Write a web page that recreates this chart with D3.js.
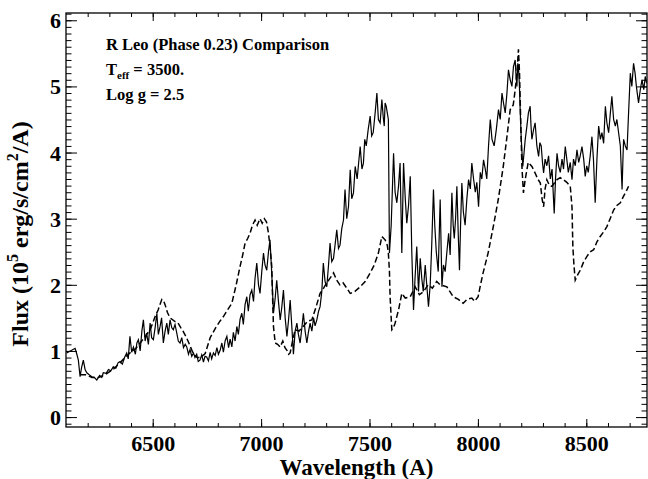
<!DOCTYPE html>
<html>
<head>
<meta charset="utf-8">
<script src="https://cdn.jsdelivr.net/npm/d3@7"></script>
<style>
  body { margin: 0; background: #fff; }
  text { font-family: "Liberation Serif", "Times New Roman", serif; font-weight: bold; fill: #000; }
</style>
</head>
<body>
<div id="chart"></div>
<script>
// observed spectrum (solid)
var obsWave = [6103,6126,6142,6150,6157,6165,6172,6180,6188,6196,6207,6219,6230,6242,6255,6265,6272,6285,6296,6307,6318,6330,6340,6349,6360,6370,6380,6387,6395,6403,6411,6420,6427,6434,6442,6450,6457,6465,6472,6480,6488,6495,6503,6511,6519,6526,6534,6541,6549,6557,6565,6572,6580,6588,6595,6603,6611,6618,6626,6634,6642,6650,6657,6665,6672,6680,6688,6695,6703,6710,6718,6726,6734,6741,6749,6757,6765,6772,6780,6788,6796,6803,6811,6819,6826,6834,6842,6850,6857,6865,6872,6880,6888,6895,6903,6911,6918,6926,6934,6941,6949,6957,6965,6972,6980,6988,6995,7003,7011,7018,7026,7034,7041,7049,7057,7065,7072,7080,7088,7095,7103,7111,7119,7126,7134,7142,7149,7157,7165,7172,7180,7188,7195,7203,7211,7218,7226,7234,7242,7249,7257,7265,7272,7280,7287,7295,7303,7311,7318,7326,7334,7341,7349,7357,7364,7372,7380,7387,7395,7403,7411,7418,7426,7434,7443,7450,7457,7465,7472,7478,7485,7494,7503,7510,7517,7526,7534,7541,7549,7557,7563,7568,7572,7577,7582,7587,7592,7600,7611,7618,7626,7634,7641,7649,7657,7665,7672,7680,7688,7695,7703,7710,7718,7726,7734,7741,7748,7757,7764,7772,7780,7787,7795,7801,7808,7817,7826,7834,7841,7849,7857,7865,7872,7880,7886,7891,7897,7903,7909,7915,7920,7926,7933,7941,7949,7957,7965,7972,7980,7988,7995,8003,8011,8018,8026,8034,8041,8049,8057,8065,8075,8085,8095,8103,8111,8118,8126,8134,8141,8149,8157,8164,8172,8176,8180,8184,8187,8191,8195,8200,8207,8213,8218,8226,8233,8241,8245,8249,8257,8264,8272,8280,8286,8292,8298,8303,8310,8318,8326,8334,8342,8352,8358,8365,8372,8380,8388,8395,8403,8410,8417,8426,8434,8441,8449,8457,8465,8472,8480,8488,8495,8502,8509,8518,8526,8533,8541,8549,8557,8565,8572,8580,8588,8595,8603,8611,8618,8626,8634,8641,8649,8657,8665,8669,8672,8680,8688,8695,8703,8710,8718,8725,8731,8737,8741,8749,8757,8765,8772,8778];
var obsFlux = [0.97,1.01,1.04,0.95,0.86,0.61,0.75,0.86,0.72,0.67,0.64,0.61,0.6,0.56,0.63,0.6,0.67,0.66,0.72,0.7,0.76,0.74,0.82,0.84,0.8,0.9,0.97,0.88,1.22,0.98,1.06,0.95,1.12,1.17,1.0,1.3,1.47,1.15,1.27,1.1,1.42,1.2,1.17,1.35,1.57,1.25,1.37,1.5,1.12,1.3,1.42,1.25,1.47,1.35,1.32,1.4,1.27,1.15,1.12,1.2,1.05,1.1,1.06,0.95,1.02,0.92,0.97,0.9,0.95,0.84,0.86,0.94,0.83,0.92,0.91,0.85,0.98,0.88,0.97,0.93,1.05,0.95,1.01,1.12,0.98,1.15,1.22,1.05,1.18,1.06,1.28,1.15,1.37,1.25,1.48,1.57,1.4,1.7,1.82,1.6,1.85,1.92,1.75,2.1,2.33,2.0,1.87,2.2,2.48,2.3,2.22,2.5,2.68,2.18,1.57,1.8,2.07,1.75,1.47,1.65,1.92,1.5,1.22,1.45,1.77,1.35,0.95,1.3,1.42,1.25,1.12,1.35,1.57,1.3,1.12,1.28,1.42,1.3,1.5,1.38,1.47,1.6,1.67,1.9,2.33,2.05,1.97,2.3,2.63,2.35,2.4,2.6,2.83,2.55,2.6,2.85,2.98,3.44,3.0,3.18,3.74,3.3,3.39,3.79,3.6,3.85,4.09,3.75,3.84,4.2,4.1,4.35,4.55,4.25,4.3,4.6,4.9,4.5,4.45,4.8,4.55,4.4,4.75,4.7,4.6,4.5,2.48,2.9,3.99,3.4,3.24,3.5,3.84,2.48,3.84,3.3,2.93,3.2,3.64,2.5,1.62,2.1,2.58,1.9,2.4,2.1,1.9,2.3,2.0,1.67,2.0,2.6,3.44,2.9,2.5,2.2,3.29,1.97,2.3,2.2,2.5,2.78,2.45,3.39,2.9,2.7,3.0,3.49,2.8,2.22,2.9,3.54,3.1,2.9,3.3,3.59,3.45,3.84,3.6,3.4,3.55,3.18,3.7,3.6,3.89,3.75,3.6,4.1,4.5,4.2,4.1,4.35,4.65,4.5,4.9,4.75,4.6,4.9,5.25,5.1,5.0,5.3,5.4,5.15,5.0,5.35,5.3,5.05,4.65,4.2,3.79,4.0,4.19,4.4,4.6,4.7,4.4,4.2,4.35,4.45,4.1,3.94,4.15,4.1,3.85,3.69,3.9,3.8,3.95,3.6,3.75,3.08,3.6,3.99,3.8,3.7,3.9,3.75,4.09,3.9,3.7,3.85,3.59,3.9,3.8,4.04,3.85,3.95,4.09,3.9,3.64,3.8,3.7,3.95,4.24,3.9,3.24,3.9,4.4,4.2,4.3,4.14,4.7,4.45,4.3,4.6,4.85,4.5,4.4,4.5,4.3,4.1,3.44,3.9,4.2,4.1,4.04,4.6,5.2,5.0,5.35,5.2,5.0,4.85,4.75,4.95,5.1,4.95,5.15,5.05];

// model spectrum, Teff = 3500, log g = 2.5 (dashed)
var modelWave = [6165,6190,6220,6250,6280,6320,6349,6372,6395,6420,6442,6465,6488,6500,6511,6525,6542,6550,6557,6568,6580,6600,6617,6630,6640,6656,6672,6688,6705,6720,6742,6765,6790,6810,6826,6845,6865,6885,6903,6915,6926,6938,6949,6960,6972,6982,6995,7005,7015,7025,7034,7041,7049,7053,7057,7065,7076,7088,7100,7110,7119,7127,7134,7145,7157,7175,7194,7215,7234,7252,7272,7288,7303,7318,7334,7349,7363,7378,7395,7411,7433,7457,7480,7503,7522,7541,7557,7572,7582,7587,7592,7595,7600,7603,7610,7618,7634,7649,7665,7688,7711,7730,7750,7770,7790,7810,7826,7857,7886,7910,7932,7950,7972,7985,8001,8012,8024,8047,8071,8094,8117,8134,8149,8163,8172,8180,8187,8192,8198,8203,8210,8218,8232,8249,8264,8276,8288,8296,8303,8310,8318,8330,8342,8355,8365,8380,8394,8410,8426,8434,8438,8443,8449,8460,8472,8488,8503,8518,8534,8549,8564,8580,8595,8610,8626,8641,8657,8672,8685,8695];
var modelFlux = [0.64,0.64,0.6,0.6,0.64,0.73,0.82,0.9,0.97,1.03,1.12,1.22,1.32,1.42,1.52,1.62,1.78,1.76,1.7,1.58,1.5,1.45,1.42,1.35,1.3,1.2,1.08,0.95,0.9,0.9,0.96,1.2,1.35,1.45,1.52,1.62,1.72,2.0,2.28,2.45,2.63,2.7,2.78,2.9,2.98,2.9,3.0,2.93,3.0,2.95,2.78,2.58,2.28,1.8,1.37,1.12,1.1,1.06,1.15,1.05,1.01,0.95,0.97,1.15,1.32,1.3,1.37,1.45,1.47,1.65,1.87,1.95,2.03,2.1,2.18,2.07,2.0,2.03,1.95,1.87,1.9,1.97,2.05,2.18,2.3,2.48,2.73,2.68,2.6,2.48,2.2,1.82,1.5,1.32,1.35,1.42,1.62,1.87,1.8,1.82,1.97,1.85,1.9,2.0,1.95,2.05,2.0,1.97,1.82,1.78,1.72,1.78,1.8,1.75,1.82,2.0,2.18,2.48,2.88,3.29,3.79,4.24,4.65,4.72,4.95,5.2,5.56,5.2,4.4,3.79,3.39,3.59,3.85,3.79,3.69,3.6,3.54,3.3,3.18,3.45,3.59,3.5,3.49,3.55,3.59,3.62,3.59,3.55,3.49,3.18,2.58,2.3,2.07,2.15,2.22,2.35,2.43,2.5,2.53,2.65,2.73,2.8,2.88,3.0,3.13,3.2,3.24,3.34,3.42,3.49];

var xTicks = [6500, 7000, 7500, 8000, 8500];
var yTicks = [0, 1, 2, 3, 4, 5, 6];

var width = 648, height = 479;
// plot box (window.top is reserved, so use a margin object)
var box = { left: 66, right: 647, top: 13, bottom: 427 };

var svg = d3.select("#chart").append("svg")
    .attr("width", width)
    .attr("height", height);

var x = d3.scaleLinear().domain([6100, 8780]).range([box.left, box.right]);
var y = d3.scaleLinear().domain([-0.15, 6.11]).range([box.bottom, box.top]);

svg.append("clipPath").attr("id", "plotclip")
  .append("rect")
    .attr("x", box.left).attr("y", box.top)
    .attr("width", box.right - box.left).attr("height", box.bottom - box.top);

var line = d3.line()
    .x(function(d) { return x(d[0]); })
    .y(function(d) { return y(d[1]); });

var obs = obsWave.map(function(w, i) { return [w, obsFlux[i]]; });
var model = modelWave.map(function(w, i) { return [w, modelFlux[i]]; });

svg.append("path")
    .datum(model)
    .attr("clip-path", "url(#plotclip)")
    .attr("d", line)
    .attr("fill", "none")
    .attr("stroke", "#000")
    .attr("stroke-width", 1.5)
    .attr("stroke-dasharray", "6,3");

svg.append("path")
    .datum(obs)
    .attr("clip-path", "url(#plotclip)")
    .attr("d", line)
    .attr("fill", "none")
    .attr("stroke", "#000")
    .attr("stroke-width", 1.2);

// axes: ticks point inwards on all four sides, like IDL
var xMinor = d3.range(6200, 8780, 100);
var yMinor = d3.range(-1, 62, 1).map(function(v) { return v / 10; });

function ticks(axis, vals, size, labels) {
  return axis.tickValues(vals).tickSizeInner(size).tickSizeOuter(0)
    .tickFormat(labels ? d3.format("d") : "");
}

svg.append("g").attr("transform", "translate(0," + box.bottom + ")").call(ticks(d3.axisBottom(x), xMinor, -4));
svg.append("g").attr("transform", "translate(0," + box.top + ")").call(ticks(d3.axisTop(x), xMinor, -4));
svg.append("g").attr("transform", "translate(" + box.left + ",0)").call(ticks(d3.axisLeft(y), yMinor, -5.5));
svg.append("g").attr("transform", "translate(" + box.right + ",0)").call(ticks(d3.axisRight(y), yMinor, -5.5));

var gx = svg.append("g").attr("transform", "translate(0," + box.bottom + ")").call(ticks(d3.axisBottom(x), xTicks, -8, true));
svg.append("g").attr("transform", "translate(0," + box.top + ")").call(ticks(d3.axisTop(x), xTicks, -8));
var gy = svg.append("g").attr("transform", "translate(" + box.left + ",0)").call(ticks(d3.axisLeft(y), yTicks, -11, true));
svg.append("g").attr("transform", "translate(" + box.right + ",0)").call(ticks(d3.axisRight(y), yTicks, -11));

gx.selectAll(".tick text").attr("y", 8).attr("dy", "0.71em").style("font-size", "22px");
gy.selectAll(".tick text").attr("x", -5).attr("dy", "0.34em").style("font-size", "22px");

svg.selectAll(".domain").remove();
svg.selectAll(".tick line").attr("stroke", "#000").attr("stroke-width", 1);

svg.append("rect")
    .attr("x", box.left).attr("y", box.top)
    .attr("width", box.right - box.left).attr("height", box.bottom - box.top)
    .attr("fill", "none")
    .attr("stroke", "#000")
    .attr("stroke-width", 1.3);

// axis titles
svg.append("text")
    .attr("x", (box.left + box.right) / 2)
    .attr("y", 475)
    .attr("text-anchor", "middle")
    .style("font-size", "23px")
    .text("Wavelength (A)");

var ylab = svg.append("text")
    .attr("transform", "translate(28,234) rotate(-90)")
    .attr("text-anchor", "middle")
    .style("font-size", "24px");
ylab.append("tspan").text("Flux (10");
ylab.append("tspan").attr("dy", -10).style("font-size", "16px").text("5");
ylab.append("tspan").attr("dy", 10).text("  erg/s/cm");
ylab.append("tspan").attr("dy", -10).style("font-size", "16px").text("2");
ylab.append("tspan").attr("dy", 10).text("/A)");

// annotation
var note = svg.append("g").style("font-size", "16.5px");
note.append("text").attr("x", 106).attr("y", 50).text("R Leo (Phase 0.23) Comparison");
var teff = note.append("text").attr("x", 106).attr("y", 75);
teff.append("tspan").text("T");
teff.append("tspan").attr("dy", 4).style("font-size", "11px").text("eff");
teff.append("tspan").attr("dy", -4).text(" = 3500.");
note.append("text").attr("x", 106).attr("y", 100).text("Log g = 2.5");
</script>
</body>
</html>
